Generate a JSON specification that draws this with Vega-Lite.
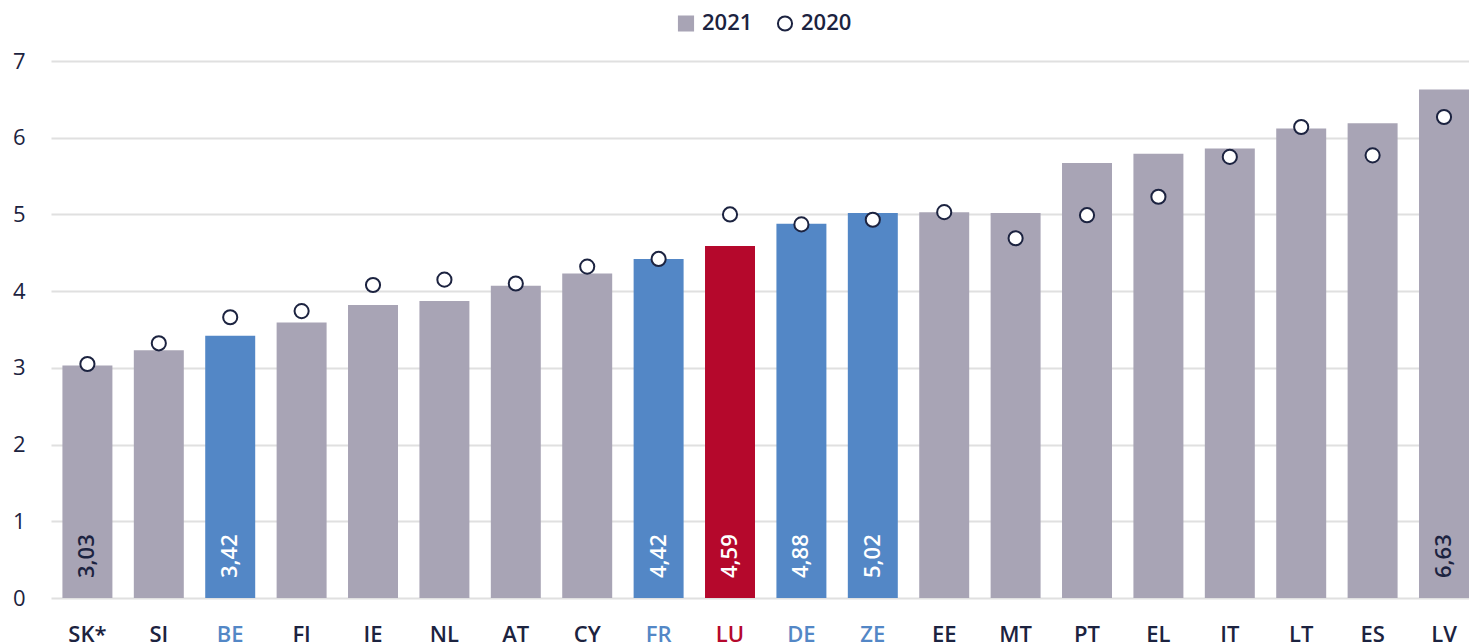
{
  "$schema": "https://vega.github.io/schema/vega-lite/v6.json",
  "width": 1418,
  "height": 537,
  "autosize": "none",
  "padding": {"left": 51, "top": 61, "right": 0, "bottom": 46},
  "background": "#ffffff",
  "config": {
    "font": "Open Sans",
    "view": {"stroke": null},
    "locale": {"number": {"decimal": ",", "thousands": ".", "grouping": [3], "currency": ["", " €"]}},
    "legend": {
      "orient": "none",
      "legendX": 624,
      "legendY": -49,
      "direction": "horizontal",
      "labelFontSize": 22,
      "labelFontWeight": 600,
      "labelColor": "#1c2340",
      "symbolSize": 200,
      "symbolStrokeWidth": 2,
      "columnPadding": 20,
      "labelOffset": 5
    }
  },
  "data": {
    "values": [
      {"c": "SK*", "v21": 3.03, "v20": 3.05, "grp": "base", "lbl": true, "yr": "2020"},
      {"c": "SI", "v21": 3.23, "v20": 3.32, "grp": "base", "lbl": false, "yr": "2020"},
      {"c": "BE", "v21": 3.42, "v20": 3.66, "grp": "ref", "lbl": true, "yr": "2020"},
      {"c": "FI", "v21": 3.59, "v20": 3.74, "grp": "base", "lbl": false, "yr": "2020"},
      {"c": "IE", "v21": 3.82, "v20": 4.08, "grp": "base", "lbl": false, "yr": "2020"},
      {"c": "NL", "v21": 3.87, "v20": 4.15, "grp": "base", "lbl": false, "yr": "2020"},
      {"c": "AT", "v21": 4.07, "v20": 4.1, "grp": "base", "lbl": false, "yr": "2020"},
      {"c": "CY", "v21": 4.23, "v20": 4.32, "grp": "base", "lbl": false, "yr": "2020"},
      {"c": "FR", "v21": 4.42, "v20": 4.42, "grp": "ref", "lbl": true, "yr": "2020"},
      {"c": "LU", "v21": 4.59, "v20": 5.0, "grp": "lu", "lbl": true, "yr": "2020"},
      {"c": "DE", "v21": 4.88, "v20": 4.87, "grp": "ref", "lbl": true, "yr": "2020"},
      {"c": "ZE", "v21": 5.02, "v20": 4.93, "grp": "ref", "lbl": true, "yr": "2020"},
      {"c": "EE", "v21": 5.03, "v20": 5.03, "grp": "base", "lbl": false, "yr": "2020"},
      {"c": "MT", "v21": 5.02, "v20": 4.69, "grp": "base", "lbl": false, "yr": "2020"},
      {"c": "PT", "v21": 5.67, "v20": 4.99, "grp": "base", "lbl": false, "yr": "2020"},
      {"c": "EL", "v21": 5.79, "v20": 5.23, "grp": "base", "lbl": false, "yr": "2020"},
      {"c": "IT", "v21": 5.86, "v20": 5.75, "grp": "base", "lbl": false, "yr": "2020"},
      {"c": "LT", "v21": 6.12, "v20": 6.14, "grp": "base", "lbl": false, "yr": "2020"},
      {"c": "ES", "v21": 6.19, "v20": 5.77, "grp": "base", "lbl": false, "yr": "2020"},
      {"c": "LV", "v21": 6.63, "v20": 6.27, "grp": "base", "lbl": true, "yr": "2020"}
    ]
  },
  "encoding": {
    "x": {
      "field": "c",
      "type": "nominal",
      "sort": null,
      "scale": {"paddingInner": 0.3, "paddingOuter": 0.08, "align": 1},
      "axis": {
        "title": null,
        "labelAngle": 0,
        "domain": false,
        "ticks": false,
        "labelFontSize": 22,
        "labelFontWeight": 600,
        "labelPadding": 26,
        "labelColor": {"expr": "datum.value == 'LU' ? '#b5082c' : (indexof(['BE','FR','DE','ZE'], datum.value) >= 0 ? '#5387c6' : '#1c2340')"}
      }
    }
  },
  "layer": [
    {
      "mark": {"type": "bar"},
      "encoding": {
        "y": {
          "field": "v21",
          "type": "quantitative",
          "scale": {"domain": [0, 7], "nice": false},
          "axis": {
            "title": null,
            "values": [0, 1, 2, 3, 4, 5, 6, 7],
            "format": "d",
            "domain": false,
            "ticks": false,
            "labelFontSize": 22,
            "labelColor": "#1c2340",
            "labelPadding": 26,
            "gridColor": "#e0e0e0",
            "gridWidth": 2
          }
        },
        "color": {
          "field": "grp",
          "type": "nominal",
          "scale": {"domain": ["base", "ref", "lu"], "range": ["#a8a4b5", "#5387c6", "#b5082c"]},
          "legend": null
        }
      }
    },
    {
      "transform": [{"filter": "datum.lbl"}],
      "mark": {"type": "text", "angle": 270, "align": "left", "baseline": "middle", "dx": 20, "fontSize": 22, "fontWeight": 600},
      "encoding": {
        "y": {"datum": 0, "type": "quantitative"},
        "text": {"field": "v21", "type": "quantitative", "format": ".2f"},
        "color": {
          "condition": {"test": "datum.grp == 'base'", "value": "#1c2340"},
          "value": "#ffffff"
        }
      }
    },
    {
      "mark": {"type": "point", "filled": true, "strokeWidth": 2, "size": 200, "opacity": 1},
      "encoding": {
        "y": {"field": "v20", "type": "quantitative"},
        "fill": {
          "field": "yr",
          "type": "nominal",
          "title": null,
          "scale": {"domain": ["2021", "2020"], "range": ["#a8a4b5", "#ffffff"]}
        },
        "stroke": {
          "field": "yr",
          "type": "nominal",
          "title": null,
          "scale": {"domain": ["2021", "2020"], "range": ["#a8a4b5", "#1c2340"]}
        },
        "shape": {
          "field": "yr",
          "type": "nominal",
          "title": null,
          "scale": {"domain": ["2021", "2020"], "range": ["square", "circle"]}
        }
      }
    }
  ]
}
